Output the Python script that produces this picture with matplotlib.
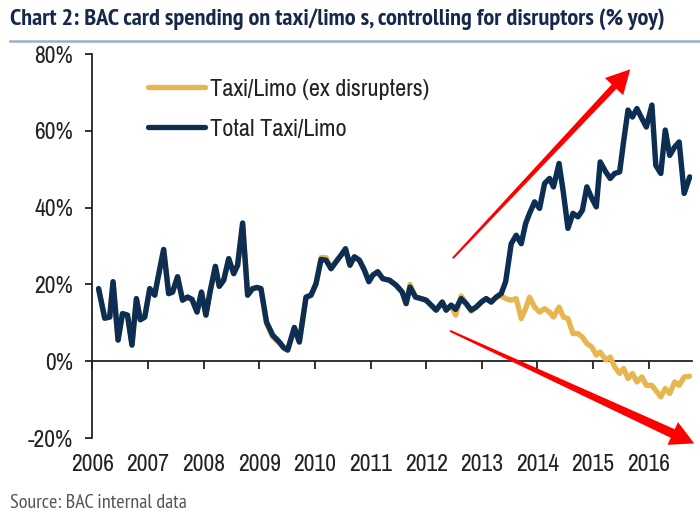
import matplotlib
matplotlib.use("Agg")
import numpy as np
import matplotlib.pyplot as plt
from matplotlib import font_manager
from matplotlib.lines import Line2D
from matplotlib.patches import Polygon

# ---------------- data ----------------
dates = [2006.11, 2006.22, 2006.31, 2006.37, 2006.46, 2006.54, 2006.63, 2006.71, 2006.79, 2006.86, 2006.94,
         2007.03, 2007.12, 2007.17, 2007.28, 2007.37, 2007.44, 2007.53, 2007.62, 2007.71, 2007.79, 2007.88, 2007.96,
         2008.04, 2008.12, 2008.21, 2008.28, 2008.36, 2008.45, 2008.54, 2008.61, 2008.70, 2008.79, 2008.88, 2008.96,
         2009.03, 2009.13, 2009.24, 2009.36, 2009.44, 2009.51, 2009.63, 2009.72, 2009.84, 2009.93,
         2010.02, 2010.11, 2010.20, 2010.29, 2010.38, 2010.47, 2010.55, 2010.63, 2010.71, 2010.80, 2010.89, 2010.97,
         2011.04, 2011.13, 2011.22, 2011.28, 2011.34, 2011.46, 2011.57, 2011.64, 2011.71, 2011.81, 2011.91,
         2012.00, 2012.09, 2012.18, 2012.29, 2012.36, 2012.45, 2012.53, 2012.63, 2012.72, 2012.81, 2012.90,
         2013.00, 2013.08, 2013.17, 2013.26, 2013.35, 2013.43, 2013.53, 2013.62, 2013.71, 2013.79, 2013.86, 2013.95,
         2014.04, 2014.13, 2014.22, 2014.29, 2014.39, 2014.47, 2014.55, 2014.64, 2014.73, 2014.81, 2014.89, 2014.98,
         2015.06, 2015.13, 2015.23, 2015.31, 2015.39, 2015.48, 2015.55, 2015.63, 2015.71, 2015.79, 2015.88, 2015.96,
         2016.06, 2016.13, 2016.22, 2016.30, 2016.38, 2016.47, 2016.55, 2016.64, 2016.74]

total_taxi = [18.9, 11.2, 11.5, 20.7, 5.5, 12.4, 12.0, 4.2, 16.3, 10.8, 11.5,
              18.9, 17.2, 21.1, 29.1, 17.6, 18.0, 22.0, 15.9, 16.7, 16.1, 12.8, 18.0,
              12.0, 18.5, 24.7, 19.5, 21.1, 26.7, 22.8, 25.0, 36.0, 17.2, 18.9, 19.2,
              18.9, 10.2, 6.8, 5.0, 3.5, 2.9, 8.8, 5.0, 16.7, 17.2,
              20.2, 26.5, 26.3, 24.1, 25.9, 27.6, 29.3, 25.0, 27.2, 26.3, 23.7, 20.7,
              22.4, 23.3, 21.5, 21.3, 21.1, 19.8, 18.0, 15.0, 19.3, 16.7, 16.3,
              15.9, 14.6, 13.3, 15.4, 13.3, 14.6, 13.5, 16.3, 15.0, 13.3, 14.1,
              15.5, 16.3, 15.4, 16.7, 17.6, 20.7, 30.6, 32.8, 30.6, 35.9, 38.5, 41.5,
              39.8, 46.3, 47.6, 45.4, 51.5, 43.7, 34.6, 38.5, 37.6, 39.3, 45.4, 42.4,
              40.2, 51.9, 49.3, 47.6, 48.9, 49.3, 57.1, 65.4, 63.6, 65.8, 63.2, 61.0,
              66.7, 51.0, 48.9, 60.2, 53.6, 55.8, 57.1, 43.7, 48.0]

ex_disrupters = [18.9, 11.2, 11.5, 20.7, 5.5, 12.4, 12.0, 4.2, 16.3, 10.8, 11.5,
                 18.9, 17.2, 21.1, 29.1, 17.6, 18.0, 22.0, 15.9, 16.7, 16.1, 12.8, 18.0,
                 12.0, 18.5, 24.7, 19.5, 21.1, 26.7, 22.8, 25.0, 35.5, 17.2, 18.9, 19.2,
                 18.9, 9.8, 6.3, 4.7, 3.5, 2.9, 8.5, 5.0, 16.4, 17.2,
                 20.2, 27.0, 27.0, 24.1, 25.9, 27.6, 29.0, 25.0, 27.2, 26.3, 23.7, 21.0,
                 22.4, 23.3, 21.5, 21.3, 21.1, 19.8, 18.0, 15.0, 20.0, 16.7, 16.3,
                 15.9, 14.6, 13.3, 15.4, 13.3, 14.6, 12.0, 17.0, 15.0, 13.0, 14.1,
                 15.5, 16.3, 15.4, 16.7, 17.0, 16.3, 15.9, 16.3, 11.1, 13.7, 16.7, 14.1,
                 12.8, 13.7, 12.8, 11.5, 14.1, 11.5, 11.1, 7.2, 7.2, 6.3, 4.6, 3.7,
                 1.6, 2.4, 0.3, 1.1, -1.5, -3.2, -1.9, -4.5, -3.2, -5.4, -4.1, -6.3,
                 -6.3, -7.6, -9.3, -7.1, -8.4, -5.4, -6.3, -4.1, -3.9]

year_ticks = [2006, 2007, 2008, 2009, 2010, 2011, 2012, 2013, 2014, 2015, 2016]
year_labels = ["2006", "2007", "2008", "2009", "2010", "2011", "2012", "2013", "2014", "2015", "2016"]
y_ticks = [-20, 0, 20, 40, 60, 80]
y_labels = ["-20%", "0%", "20%", "40%", "60%", "80%"]
series_names = ["Taxi/Limo (ex disrupters)", "Total Taxi/Limo"]

# annotation arrows: (tail x, tail y) -> (tip x, tip y), in data units
arrow_up = ((2012.48, 26.8), (2015.67, 76.0))
arrow_down = ((2012.43, 7.9), (2016.82, -21.4))

title_text = "Chart 2: BAC card spending on taxi/limo s, controlling for disruptors (% yoy)"
source_text = "Source: BAC internal data"

# ---------------- fonts ----------------
names = {f.name for f in font_manager.fontManager.ttflist}


def pick(cands, default):
    for c in cands:
        if c in names:
            return c
    return default


BODY = pick(["Liberation Sans Narrow", "Arial Narrow", "Pragati Narrow", "Archivo Narrow",
             "PT Sans Narrow", "Roboto Condensed", "Asap Condensed"], None)
scale = 1.0
if BODY is None:
    BODY = "Liberation Sans"
    scale = 0.82
TITLEF = pick(["PT Sans Narrow", "Fira Sans Condensed", "Asap Condensed", "Open Sans Condensed",
               "Roboto Condensed", "Archivo Narrow"], BODY)
plt.rcParams["font.family"] = [BODY, "DejaVu Sans"]

GOLD = "#E8B64E"
NAVY = "#0B2E52"
AXC = "#222222"
RED = "#FF0000"

fig = plt.figure(figsize=(7, 5.25), dpi=100)
ax = fig.add_axes([0.1321, 0.1657, 0.8564, 0.7314])

ax.plot(dates, ex_disrupters, color=GOLD, lw=3.8, solid_joinstyle="round",
        solid_capstyle="round", zorder=3)
ax.plot(dates, total_taxi, color=NAVY, lw=3.9, solid_joinstyle="round",
        solid_capstyle="round", zorder=4)

ax.set_xlim(2006, 2016.78)
ax.set_ylim(-20, 80)

for s in ["top", "right"]:
    ax.spines[s].set_visible(False)
ax.spines["left"].set_color(AXC)
ax.spines["left"].set_linewidth(1.3)
ax.spines["bottom"].set_position(("data", 0))
ax.spines["bottom"].set_color(AXC)
ax.spines["bottom"].set_linewidth(1.3)

ax.set_yticks(y_ticks)
ax.set_yticklabels(y_labels)
ax.set_xticks(year_ticks)
ax.set_xticklabels(year_labels)
ax.tick_params(axis="y", direction="out", length=5, width=1.3, color=AXC,
               labelsize=18.5 * scale, labelcolor="#222222", pad=9)
ax.tick_params(axis="x", direction="out", length=6, width=1.3, color=AXC,
               labelsize=18.5 * scale, labelcolor="#222222", pad=61)

LEGFS = 19 * scale
handles = [Line2D([], [], color=GOLD, lw=3.8, solid_capstyle="round"),
           Line2D([], [], color=NAVY, lw=3.8, solid_capstyle="round")]
leg = ax.legend(handles, series_names, loc="center left", bbox_to_anchor=(0.093, 0.857),
                frameon=False, fontsize=LEGFS, handlelength=41 / LEGFS,
                handletextpad=3.2 / LEGFS, labelspacing=0.68, borderpad=0, borderaxespad=0)
for t in leg.get_texts():
    t.set_color("#222222")


# arrows: tapered shaft (narrow at tail, in pixels) + solid head
def red_arrow(tail, tip, w_tail, w_head, head_px=24):
    T = ax.transData
    p0 = T.transform(tail)
    p1 = T.transform(tip)
    d = p1 - p0
    L = np.hypot(*d)
    u = d / L
    n = np.array([-u[1], u[0]])
    base = p1 - u * (head_px - 2)
    quad = [p0 + n * w_tail / 2, base + n * w_head / 2, base - n * w_head / 2, p0 - n * w_tail / 2]
    quad_data = T.inverted().transform(np.array(quad))
    ax.add_patch(Polygon(quad_data, closed=True, facecolor=RED, edgecolor="none",
                         clip_on=False, zorder=6))
    start = T.inverted().transform(p1 - u * (head_px + 4))
    ax.annotate("", xy=tip, xytext=tuple(start),
                arrowprops=dict(arrowstyle="simple,head_length=0.85,head_width=0.9,tail_width=0.05",
                                color=RED, lw=0, shrinkA=0, shrinkB=0, mutation_scale=20),
                annotation_clip=False, zorder=6)


red_arrow(*arrow_up, 2.0, 6.5)
red_arrow(*arrow_down, 2.0, 9.5)

# title and underline
title = fig.text(10 / 700, 1 - 19 / 525, title_text, ha="left", va="center",
                 fontsize=16, fontweight="bold", color="#17294A",
                 family=[TITLEF, "DejaVu Sans"])
fig.canvas.draw()
r = fig.canvas.get_renderer()
w = title.get_window_extent(r).width
title.set_fontsize(16 * 655 / w)
fig.add_artist(Line2D([10 / 700, 1.0], [1 - 41 / 525, 1 - 41 / 525], color="#98AED0",
                      lw=1.8, transform=fig.transFigure))

src = fig.text(10 / 700, 1 - 503 / 525, source_text, ha="left", va="center",
               fontsize=13, color="#555555", family=[TITLEF, "DejaVu Sans"])
fig.canvas.draw()
w2 = src.get_window_extent(fig.canvas.get_renderer()).width
src.set_fontsize(13 * 176 / w2)

fig.savefig("out.png", dpi=100)
